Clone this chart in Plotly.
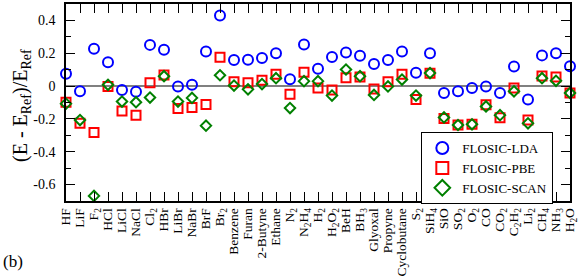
import plotly.graph_objects as go

categories = ["HF", "LiF", "F<sub>2</sub>", "HCl", "LiCl", "NaCl", "Cl<sub>2</sub>", "HBr", "LiBr", "NaBr",
              "BrF", "Br<sub>2</sub>", "Benzene", "Furan", "2-Butyne", "Ethane", "N<sub>2</sub>",
              "N<sub>2</sub>H<sub>4</sub>", "H<sub>2</sub>", "H<sub>2</sub>O<sub>2</sub>", "BeH",
              "BH<sub>3</sub>", "Glyoxal", "Propyne", "Cyclobutane", "S<sub>2</sub>", "SiH<sub>4</sub>",
              "SiO", "SO<sub>2</sub>", "O<sub>2</sub>", "CO", "CO<sub>2</sub>", "C<sub>2</sub>H<sub>2</sub>",
              "Li<sub>2</sub>", "CH<sub>4</sub>", "NH<sub>3</sub>", "H<sub>2</sub>O"]

lda = [0.075, -0.032, 0.227, 0.145, -0.024, -0.034, 0.251, 0.221, -0.002, 0.008,
       0.211, 0.430, 0.159, 0.161, 0.171, 0.200, 0.042, 0.254, 0.105, 0.177,
       0.205, 0.185, 0.135, 0.159, 0.211, 0.081, 0.200, -0.042, -0.032, -0.012,
       -0.002, -0.042, 0.119, -0.082, 0.187, 0.200, 0.121]
pbe = [-0.098, -0.227, -0.283, -0.002, -0.152, -0.177, 0.021, 0.067, -0.137, -0.130,
       -0.112, 0.175, 0.026, 0.021, 0.036, 0.072, -0.050, 0.085, -0.012, -0.024,
       0.051, 0.056, -0.018, 0.027, 0.072, -0.082, 0.078, -0.197, -0.237, -0.233,
       -0.113, -0.193, -0.012, -0.207, 0.061, 0.056, -0.042]
scan = [-0.107, -0.207, -0.669, 0.008, -0.094, -0.098, -0.070, 0.060, -0.094, -0.072,
        -0.241, 0.066, 0.003, -0.020, 0.012, 0.048, -0.134, 0.030, 0.030, -0.058,
        0.101, 0.060, -0.054, -0.002, 0.040, -0.058, 0.079, -0.191, -0.237, -0.233,
        -0.124, -0.177, -0.032, -0.227, 0.048, 0.032, -0.042]

yticks = [-0.6, -0.4, -0.2, 0, 0.2, 0.4]
ytick_text = ["-0.6", "-0.4", "-0.2", "0", "0.2", "0.4"]

FONT = "Liberation Serif"

fig = go.Figure()
fig.add_trace(go.Scatter(x=categories, y=lda, mode="markers", name="FLOSIC-LDA", cliponaxis=False,
                         marker=dict(symbol="circle-open", size=10, color="#0000ff", line=dict(width=2))))
fig.add_trace(go.Scatter(x=categories, y=pbe, mode="markers", name="FLOSIC-PBE", cliponaxis=False,
                         marker=dict(symbol="square-open", size=9, color="#ff0000", line=dict(width=2))))
fig.add_trace(go.Scatter(x=categories, y=scan, mode="markers", name="FLOSIC-SCAN", cliponaxis=False,
                         marker=dict(symbol="diamond-open", size=8, color="#008000", line=dict(width=2))))

fig.update_layout(
    width=581, height=278,
    margin=dict(l=66, r=8, t=2, b=75),
    paper_bgcolor="white", plot_bgcolor="white",
    font=dict(family=FONT, color="black", size=14),
    showlegend=True,
    legend=dict(x=0.705, y=0.35, xanchor="left", yanchor="top",
                bgcolor="white", bordercolor="black", borderwidth=1,
                font=dict(family=FONT, size=13), tracegroupgap=0, itemsizing="constant"),
    xaxis=dict(type="category", categoryorder="array", categoryarray=categories,
               range=[0, len(categories) - 1],
               tickmode="array", tickvals=categories, ticktext=categories,
               showline=True, linecolor="black", linewidth=1.5, mirror="ticks",
               ticks="inside", ticklen=9, tickcolor="black", tickwidth=1,
               tickangle=-90, tickfont=dict(family=FONT, size=13.5), showgrid=False, zeroline=False),
    yaxis=dict(range=[-0.7, 0.5], tickvals=yticks, ticktext=ytick_text,
               showline=True, linecolor="black", linewidth=1.5, mirror="ticks",
               ticks="inside", ticklen=9, tickcolor="black", tickwidth=1,
               minor=dict(tickvals=[-0.7, -0.5, -0.3, -0.1, 0.1, 0.3, 0.5], ticks="inside", ticklen=5,
                          tickcolor="black", showgrid=False),
               tickfont=dict(family=FONT, size=14), ticklabelstandoff=6,
               showgrid=False, zeroline=True, zerolinecolor="#808080", zerolinewidth=2),
)

fig.add_annotation(text="(E - E<sub>Ref</sub>)/E<sub>Ref</sub>", xref="paper", yref="paper",
                   x=-0.087, y=0.483, xanchor="center", yanchor="middle", textangle=-90,
                   showarrow=False, font=dict(family=FONT, size=20))
fig.add_annotation(text="(b)", xref="paper", yref="paper", x=-0.128, y=-0.308,
                   xanchor="left", yanchor="middle", showarrow=False, font=dict(family=FONT, size=17))

fig.write_html("out.html", config={"displayModeBar": False},
               post_script="document.body.style.margin='0px';")
